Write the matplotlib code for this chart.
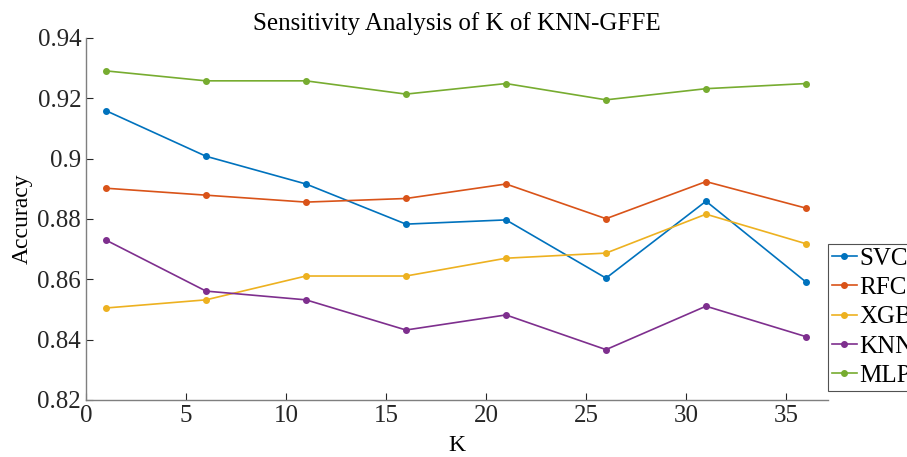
import numpy as np
import matplotlib
matplotlib.use('Agg')
import matplotlib.pyplot as plt

plt.rcParams['font.family'] = ['Liberation Serif', 'DejaVu Serif']
plt.rcParams['xtick.direction'] = 'in'
plt.rcParams['ytick.direction'] = 'in'

k = [1, 6, 11, 16, 21, 26, 31, 36]
svc = [0.9159, 0.9008, 0.8916, 0.8783, 0.8797, 0.8604, 0.8859, 0.8591]
rfc = [0.8902, 0.8879, 0.8856, 0.8868, 0.8916, 0.8801, 0.8924, 0.8836]
xgb = [0.8505, 0.8532, 0.8611, 0.8611, 0.8670, 0.8687, 0.8816, 0.8718]
knn = [0.8730, 0.8561, 0.8532, 0.8432, 0.8482, 0.8367, 0.8511, 0.8410]
mlp = [0.9291, 0.9258, 0.9258, 0.9214, 0.9249, 0.9195, 0.9232, 0.9249]
names = ['SVC', 'RFC', 'XGB', 'KNN', 'MLP']
series = [svc, rfc, xgb, knn, mlp]
colors = ['#0072BD', '#D95319', '#EDB120', '#7E2F8E', '#77AC30']
yticks = [0.82, 0.84, 0.86, 0.88, 0.90, 0.92, 0.94]
ylabels = ['0.82', '0.84', '0.86', '0.88', '0.9', '0.92', '0.94']

fig = plt.figure(figsize=(9.07, 4.57), dpi=100)
ax = fig.add_axes([86 / 907, 57 / 457, 742 / 907, 362 / 457])

for s, n, c in zip(series, names, colors):
    ax.plot(k, s, color=c, marker='o', markersize=4, linewidth=1.2, label=n)

ax.set_xlim(0, 37.1)
ax.set_ylim(0.82, 0.94)
ax.set_xticks([0, 5, 10, 15, 20, 25, 30, 35])
ax.set_yticks(yticks)
ax.set_yticklabels(ylabels)
ax.tick_params(labelsize=18, length=5, width=0.8, colors='#262626')
for side in ['top', 'right']:
    ax.spines[side].set_visible(False)
for side in ['left', 'bottom']:
    ax.spines[side].set_color('#7f7f7f')
    ax.spines[side].set_linewidth(1.0)

ax.set_title('Sensitivity Analysis of K of KNN-GFFE', fontsize=18, pad=6)
ax.set_xlabel('K', fontsize=17, labelpad=6)
ax.set_ylabel('Accuracy', fontsize=17, labelpad=3)

leg = ax.legend(loc='center left', bbox_to_anchor=(1.0, 0.229), fontsize=18,
                frameon=True, fancybox=False, handlelength=1.0, handletextpad=0.1,
                borderpad=0.15, labelspacing=0.27, borderaxespad=0.0)
leg.get_frame().set_edgecolor('#262626')
leg.get_frame().set_linewidth(0.8)

fig.savefig('out.png', dpi=100)
